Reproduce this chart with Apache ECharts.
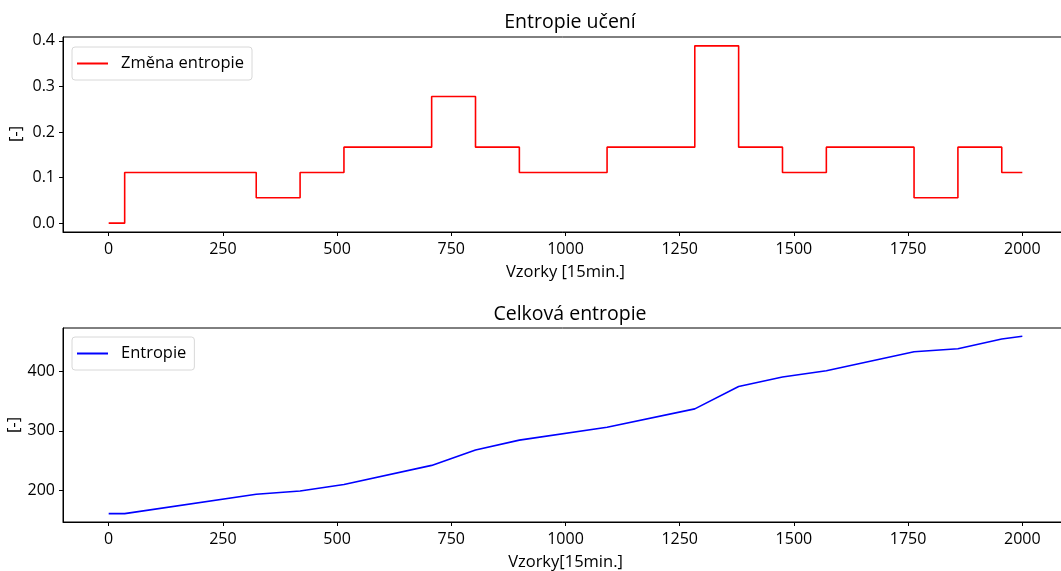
<!DOCTYPE html>
<html>
<head>
<meta charset="utf-8">
<script src="https://cdn.jsdelivr.net/npm/echarts@6/dist/echarts.min.js"></script>
<style>
  html, body { margin: 0; padding: 0; background: #fff; }
  #chart { width: 1061px; height: 571px; }
</style>
</head>
<body>
<div id="chart"></div>
<script>
// vzorky, kde se mění entropie (krok po 96 vzorcích = 1 den)
const stepX = [0, 35, 323, 419, 515, 707, 803, 899, 1091, 1283, 1379, 1475, 1571, 1763, 1859, 1955, 2000];
// změna entropie - hodnota platná od daného vzorku
const zmenaEntropie = [0, 0.1111, 0.0556, 0.1111, 0.1667, 0.2778, 0.1667, 0.1111, 0.1667, 0.3889, 0.1667, 0.1111, 0.1667, 0.0556, 0.1667, 0.1111, 0.1111];
// celková entropie v týchž vzorcích
const celkovaEntropie = [161, 161, 193.5, 199, 210, 242, 268, 284.5, 306, 337, 374.5, 390.5, 401, 433, 438, 454.5, 459];

const xTicks = [0, 250, 500, 750, 1000, 1250, 1500, 1750, 2000];
const yTicksTop = [0, 0.1, 0.2, 0.3, 0.4];
const yTicksBottom = [200, 300, 400];

const FONT = 'Open Sans';
const TXT = '#000';

const chart = echarts.init(document.getElementById('chart'));

// osa x je pro oba grafy stejná
function makeXAxis(gridIndex, name) {
  return {
    type: 'value',
    gridIndex: gridIndex,
    min: -100,
    max: 2100,
    name: name,
    nameLocation: 'middle',
    nameGap: 32,
    nameTextStyle: { color: TXT, fontSize: 16.5, fontFamily: FONT },
    axisLine: { show: true, onZero: false, lineStyle: { color: '#000', width: 1 } },
    axisTick: { show: true, length: 4, inside: false, customValues: xTicks, lineStyle: { color: '#000' } },
    axisLabel: { customValues: xTicks, color: TXT, fontSize: 16, fontFamily: FONT, margin: 9, formatter: v => String(v) },
    splitLine: { show: false }
  };
}

function makeYAxis(gridIndex, min, max, ticks, fmt) {
  return {
    type: 'value',
    gridIndex: gridIndex,
    min: min,
    max: max,
    axisLine: { show: true, onZero: false, lineStyle: { color: '#000', width: 1 } },
    axisTick: { show: true, length: 4, inside: false, customValues: ticks, lineStyle: { color: '#000' } },
    axisLabel: { customValues: ticks, color: TXT, fontSize: 16, fontFamily: FONT, margin: 8, formatter: fmt },
    splitLine: { show: false }
  };
}

// popisek osy y "[-]" otočený o 90°
function yName(x, y) {
  return {
    type: 'text',
    x: x,
    y: y,
    rotation: Math.PI / 2,
    style: { text: '[-]', fill: TXT, fontSize: 16.5, fontFamily: FONT, align: 'center', verticalAlign: 'middle' }
  };
}

const legendBase = {
  orient: 'vertical',
  left: 72,
  icon: 'rect',
  itemWidth: 31,
  itemHeight: 2,
  padding: [8, 8, 8, 5],
  backgroundColor: '#fff',
  borderColor: '#d8d8d8',
  borderWidth: 1,
  borderRadius: 3,
  textStyle: { color: TXT, fontSize: 16.5, fontFamily: FONT, padding: [0, 0, 0, 8] }
};

const option = {
  backgroundColor: '#fff',
  animation: false,
  title: [
    { text: 'Entropie učení', left: 565, top: 7, textAlign: 'center',
      textStyle: { color: TXT, fontSize: 19.5, fontWeight: 'normal', fontFamily: FONT } },
    { text: 'Celková entropie', left: 565, top: 299, textAlign: 'center',
      textStyle: { color: TXT, fontSize: 19.5, fontWeight: 'normal', fontFamily: FONT } }
  ],
  graphic: [yName(16, 134), yName(14, 425)],
  legend: [
    Object.assign({}, legendBase, { top: 47, data: ['Změna entropie'] }),
    Object.assign({}, legendBase, { top: 337, data: ['Entropie'] })
  ],
  grid: [
    { left: 63, top: 37, width: 1005, height: 195, outerBoundsMode: 'none', containLabel: false,
      show: true, borderColor: '#000', borderWidth: 1 },
    { left: 63, top: 328, width: 1005, height: 194, outerBoundsMode: 'none', containLabel: false,
      show: true, borderColor: '#000', borderWidth: 1 }
  ],
  xAxis: [
    makeXAxis(0, 'Vzorky [15min.]'),
    makeXAxis(1, 'Vzorky[15min.]')
  ],
  yAxis: [
    makeYAxis(0, -0.0194, 0.4083, yTicksTop, v => v.toFixed(1)),
    makeYAxis(1, 146.9, 472.9, yTicksBottom, v => String(v))
  ],
  series: [
    {
      name: 'Změna entropie',
      type: 'line',
      xAxisIndex: 0,
      yAxisIndex: 0,
      step: 'end',
      symbol: 'none',
      data: stepX.map((x, i) => [x, zmenaEntropie[i]]),
      lineStyle: { color: '#ff0000', width: 1.6 },
      itemStyle: { color: '#ff0000' }
    },
    {
      name: 'Entropie',
      type: 'line',
      xAxisIndex: 1,
      yAxisIndex: 1,
      symbol: 'none',
      data: stepX.map((x, i) => [x, celkovaEntropie[i]]),
      lineStyle: { color: '#0000ff', width: 1.6 },
      itemStyle: { color: '#0000ff' }
    }
  ]
};

chart.setOption(option);
</script>
</body>
</html>
